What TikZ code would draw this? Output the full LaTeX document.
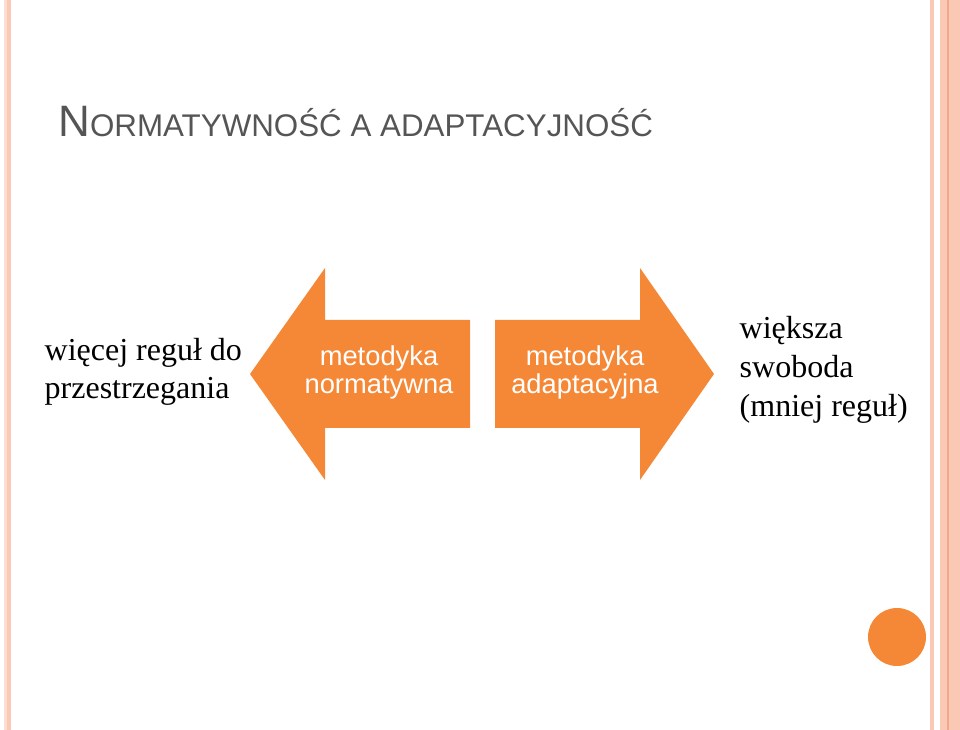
\documentclass[tikz,border=0pt]{standalone}
\usepackage{fontspec}
\setmainfont{Liberation Serif}
\setsansfont{Liberation Sans}
\definecolor{accent}{HTML}{F58836}
\definecolor{stripe}{HTML}{FAC8B4}
\definecolor{stripedark}{HTML}{F0A888}
\definecolor{titlegray}{HTML}{555555}
\tikzset{
	arrowshape/.style={fill=accent, draw=none},
	arrowtext/.style={text=white, font=\sffamily\fontsize{20.5}{22}\selectfont, align=center},
	sidetext/.style={font=\fontsize{24}{29}\selectfont, align=left, anchor=west},
}
\begin{document}
\begin{tikzpicture}[x=0.75pt, y=-0.75pt]
	\useasboundingbox (0,0) rectangle (960,730);

	% border stripes
	\fill [stripe!60] (4,0) rectangle (7,730);
	\fill [stripe] (7,0) rectangle (11,730);
	\fill [stripe] (930,0) rectangle (934,730);
	\fill [stripe] (940,0) rectangle (960,730);
	\fill [stripedark] (947,0) rectangle (949,730);

	% title
	\node (title) [anchor=base west, text=titlegray, font=\sffamily, inner sep=0] at (58,137)
		{\fontsize{33}{35}\selectfont N\fontsize{23.5}{25}\selectfont ORMATYWNOŚĆ A ADAPTACYJNOŚĆ};

	% arrows
	\fill [arrowshape] (250,374) -- (325,268) -- (325,320) -- (470,320) -- (470,428) -- (325,428) -- (325,480) -- cycle;
	\fill [arrowshape] (495,320) -- (640,320) -- (640,268) -- (714,374) -- (640,480) -- (640,428) -- (495,428) -- cycle;

	\node (norm) [arrowtext] at (379,372) {metodyka\\[-1pt]normatywna};
	\node (adapt) [arrowtext] at (585,372) {metodyka\\[-1pt]adaptacyjna};

	\node (more) [sidetext] at (40,372) {więcej reguł do\\przestrzegania};
	\node (free) [sidetext] at (735,370) {większa\\swoboda\\(mniej reguł)};

	\fill [accent] (897,637) circle[radius=29];
\end{tikzpicture}
\end{document}
